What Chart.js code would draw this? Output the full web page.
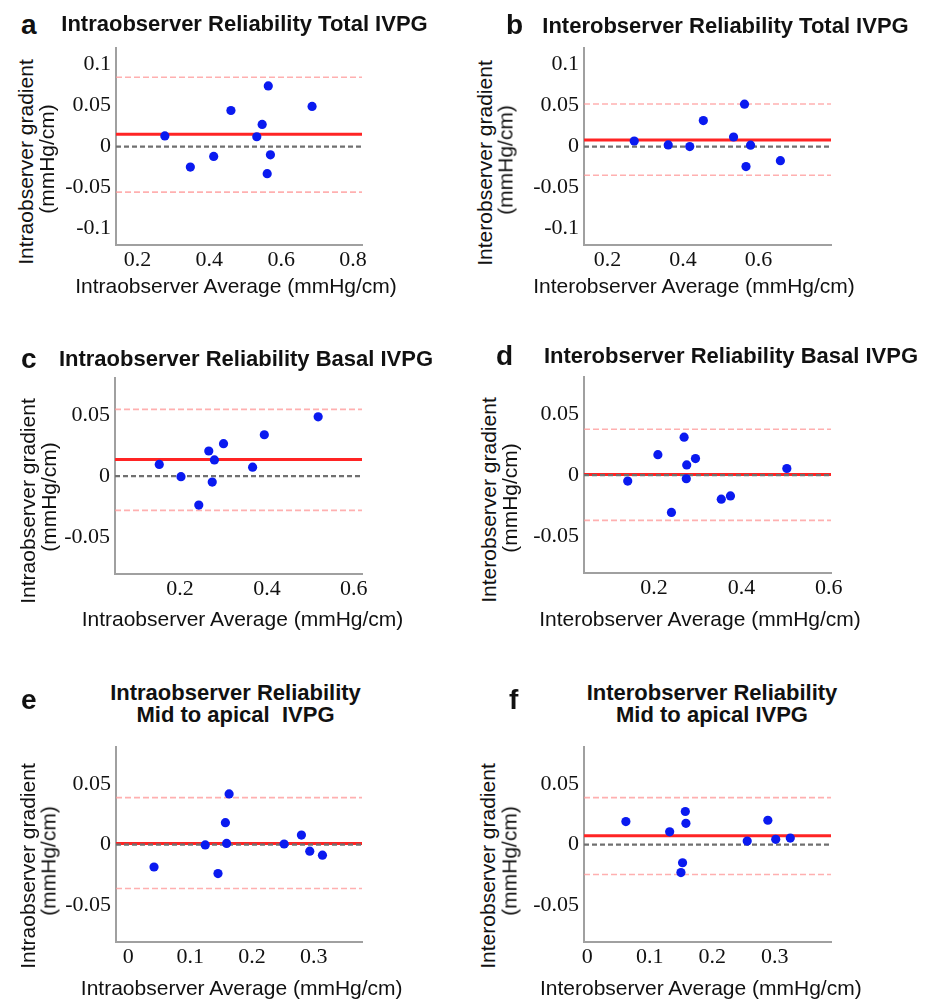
<!DOCTYPE html>
<html>
<head>
<meta charset="utf-8">
<script src="https://cdn.jsdelivr.net/npm/chart.js@4.4.0/dist/chart.umd.min.js"></script>
<style>
  html, body { margin: 0; padding: 0; background: #fff; }
  #page { position: relative; width: 930px; height: 999px; overflow: hidden; }
  #page canvas { position: absolute; }
  .ttl { position: absolute; font: bold 22px "Liberation Sans", Arial, sans-serif; line-height: 22px;
         white-space: pre; text-align: center; transform: translateX(-50%); color: #111; }
  .lbl { position: absolute; font: bold 28px "Liberation Sans", Arial, sans-serif; line-height: 28px; color: #111; }
  .ax  { position: absolute; font: 21px "Liberation Sans", Arial, sans-serif; line-height: 21px;
         white-space: pre; color: #111; transform: translate(-50%, -50%); }
  .ax.rot { transform: translate(-50%, -50%) rotate(-90deg); }
</style>
</head>
<body>
<div id="page"></div>
<script>
// Bland-Altman panels, values

const panelLetters = ['a','b','c','d','e','f']
const panelTitles = [
  ['Intraobserver Reliability Total IVPG'],
  ['Interobserver Reliability Total IVPG'],
  ['Intraobserver Reliability Basal IVPG'],
  ['Interobserver Reliability Basal IVPG'],
  ['Intraobserver Reliability', 'Mid to apical  IVPG'],
  ['Interobserver Reliability', 'Mid to apical IVPG']
]
const xLabels = ['Intraobserver Average (mmHg/cm)','Interobserver Average (mmHg/cm)',
  'Intraobserver Average (mmHg/cm)','Interobserver Average (mmHg/cm)',
  'Intraobserver Average (mmHg/cm)','Interobserver Average (mmHg/cm)']
const yLabels = [
  ['Intraobserver gradient','(mmHg/cm)'],['Interobserver gradient','(mmHg/cm)'],
  ['Intraobserver gradient','(mmHg/cm)'],['Interobserver gradient','(mmHg/cm)'],
  ['Intraobserver gradient','(mmHg/cm)'],['Interobserver gradient','(mmHg/cm)']]

// average (x) and difference (y) per panel
const avgA  = [0.276, 0.347, 0.412, 0.460, 0.532, 0.547, 0.564, 0.570, 0.561, 0.686]
const diffA = [0.013, -0.025, -0.012, 0.044, 0.012, 0.027, 0.074, -0.010, -0.033, 0.049]
const avgB  = [0.271, 0.361, 0.418, 0.454, 0.534, 0.563, 0.579, 0.567, 0.658]
const diffB = [0.0068, 0.002, 0.0, 0.0317, 0.0117, 0.0517, 0.0017, -0.0244, -0.0172]
const avgC  = [0.152, 0.202, 0.243, 0.266, 0.279, 0.274, 0.300, 0.367, 0.394, 0.518]
const diffC = [0.0095, -0.0005, -0.0237, 0.0205, 0.0132, -0.0049, 0.0265, 0.0073, 0.0338, 0.0484]
const avgD  = [0.140, 0.209, 0.240, 0.269, 0.275, 0.295, 0.274, 0.354, 0.375, 0.504]
const diffD = [-0.0049, 0.0167, -0.0305, 0.031, 0.0083, 0.0135, -0.003, -0.0197, -0.017, 0.0054]
const avgE  = [0.0415, 0.1244, 0.145, 0.157, 0.159, 0.163, 0.252, 0.280, 0.2935, 0.314]
const diffE = [-0.0184, -0.0003, -0.0238, 0.018, 0.001, 0.0416, 0.0005, 0.0078, -0.0054, -0.0087]
const avgF  = [0.062, 0.132, 0.157, 0.158, 0.1526, 0.150, 0.256, 0.289, 0.3016, 0.3249]
const diffF = [0.0189, 0.0105, 0.0272, 0.0175, -0.0149, -0.023, 0.0029, 0.020, 0.0043, 0.0054]

// bias and limits of agreement
const biasMean = [0.015, 0.008, 0.0135, 0.0005, 0.001, 0.0073]
const loaUpper = [0.0845, 0.052, 0.0545, 0.0375, 0.0386, 0.0386]
const loaLower = [-0.0555, -0.035, -0.028, -0.037, -0.036, -0.0246]

// ticks and axis ranges
const xTicksTotal = [0.2, 0.4, 0.6, 0.8]
const xTicksTotalB = [0.2, 0.4, 0.6]
const xTicksBasal = [0.2, 0.4, 0.6]
const xTicksApical = [0, 0.1, 0.2, 0.3]
const yTicksTotal = [-0.1, -0.05, 0, 0.05, 0.1]
const yTicksRegional = [-0.05, 0, 0.05]
const xMin = [0.14, 0.138, 0.05, 0.04, -0.02, -0.005]
const xMax = [0.825, 0.792, 0.619, 0.605, 0.378, 0.39]
const yMin = [-0.12, -0.12, -0.08, -0.08, -0.08, -0.08]
const yMax = [0.12, 0.12, 0.08, 0.08, 0.08, 0.08]

const avgs = [avgA, avgB, avgC, avgD, avgE, avgF]
const diffs = [diffA, diffB, diffC, diffD, diffE, diffF]
const xTicks = [xTicksTotal, xTicksTotalB, xTicksBasal, xTicksBasal, xTicksApical, xTicksApical]
const yTicks = [yTicksTotal, yTicksTotal, yTicksRegional, yTicksRegional, yTicksRegional, yTicksRegional]

// ---- layout (page px) ----
const plotBox = [[116,46,362,245],[584,46,831,245],[115,376,362,574],[584,375,831,573],[116,745,362,942],[584,745,831,942]]
// y-label line centres: [x1, y1, x2, y2]
const yTitlePos = [[25,162,45.5,159],[483.5,163,505,160],[26.5,501,48,496.7],[487.5,500,509,497.5],[26.5,865.8,47.5,860.8],[487,865.8,508.5,860.8]]
const xTitlePos = [[236,284.5],[694,284.5],[242.5,618],[700,618],[241.7,986.5],[700.8,986.5]]
const titleCenterX = [244.5, 725.5, 246, 731, 235.5, 712]
const titleBaseY = [31.7, 33.3, 366, 363.3, 700.7, 700]
const letterPos = [[21,35],[506,34.3],[21,368.3],[496,366],[21,710],[509,709.3]]

const Y_AXIS_W = 75, X_AXIS_H = 40, PAD_TOP = 16, PAD_RIGHT = 45
const page = document.getElementById('page')

function addText(cls, text, left, top){
  const d = document.createElement('div'); d.className = cls
  d.textContent = text; d.style.left = left + 'px'; d.style.top = top + 'px'
  page.appendChild(d)
}

function hline(y, i, color, width, dash){
  return { data: [{x: xMin[i], y}, {x: xMax[i], y}], showLine: true, pointRadius: 0,
           borderColor: color, borderWidth: width, borderDash: dash, fill: false }
}

panelLetters.forEach((letter, i) => {
  const [L, T, R, B] = plotBox[i]
  const cLeft = L - Y_AXIS_W, cTop = T - PAD_TOP
  const canvas = document.createElement('canvas')
  canvas.width = R + PAD_RIGHT - cLeft; canvas.height = B + X_AXIS_H - cTop
  canvas.style.left = cLeft + 'px'; canvas.style.top = cTop + 'px'
  page.appendChild(canvas)

  addText('lbl', letter, letterPos[i][0], letterPos[i][1] - 23.7)
  addText('ttl', panelTitles[i].join('\n'), titleCenterX[i], titleBaseY[i] - 18.5)
  addText('ax', xLabels[i], xTitlePos[i][0], xTitlePos[i][1])
  const yp = yTitlePos[i]
  addText('ax rot', yLabels[i][0], yp[0], yp[1])
  addText('ax rot', yLabels[i][1], yp[2], yp[3])

  const pts = avgs[i].map((x, k) => ({x, y: diffs[i][k]}))
  const tickFont = { family: '"Liberation Serif", "Times New Roman", serif', size: 22 }

  new Chart(canvas, {
    type: 'scatter',
    data: { datasets: [
      { data: pts, pointRadius: 4.6, pointBackgroundColor: '#0a1af0', pointBorderWidth: 0 },
      hline(0, i, '#707070', 2.2, [5, 3]),
      hline(biasMean[i], i, '#ff2424', 3, []),
      hline(loaUpper[i], i, 'rgba(255,150,150,0.75)', 1.6, [6, 3]),
      hline(loaLower[i], i, 'rgba(255,150,150,0.75)', 1.6, [6, 3])
    ]},
    options: {
      responsive: false, animation: false, devicePixelRatio: 1,
      layout: { padding: { top: PAD_TOP, right: PAD_RIGHT, left: 0, bottom: 0 } },
      plugins: { legend: { display: false }, tooltip: { enabled: false } },
      scales: {
        x: {
          type: 'linear', min: xMin[i], max: xMax[i],
          afterBuildTicks: s => { s.ticks = xTicks[i].map(v => ({value: v})) },
          afterFit: s => { s.height = X_AXIS_H },
          grid: { display: false, drawTicks: false },
          border: { display: true, color: '#a0a0a0', width: 2 },
          ticks: { font: tickFont, color: '#111', padding: 2, maxRotation: 0, autoSkip: false,
                   callback: v => String(v) }
        },
        y: {
          type: 'linear', min: yMin[i], max: yMax[i],
          afterBuildTicks: s => { s.ticks = yTicks[i].map(v => ({value: v})) },
          afterFit: s => { s.width = Y_AXIS_W },
          grid: { display: false, drawTicks: false },
          border: { display: true, color: '#a0a0a0', width: 2 },
          ticks: { font: tickFont, color: '#111', padding: 5, callback: v => String(v) }
        }
      }
    }
  })
})
</script>
</body>
</html>
